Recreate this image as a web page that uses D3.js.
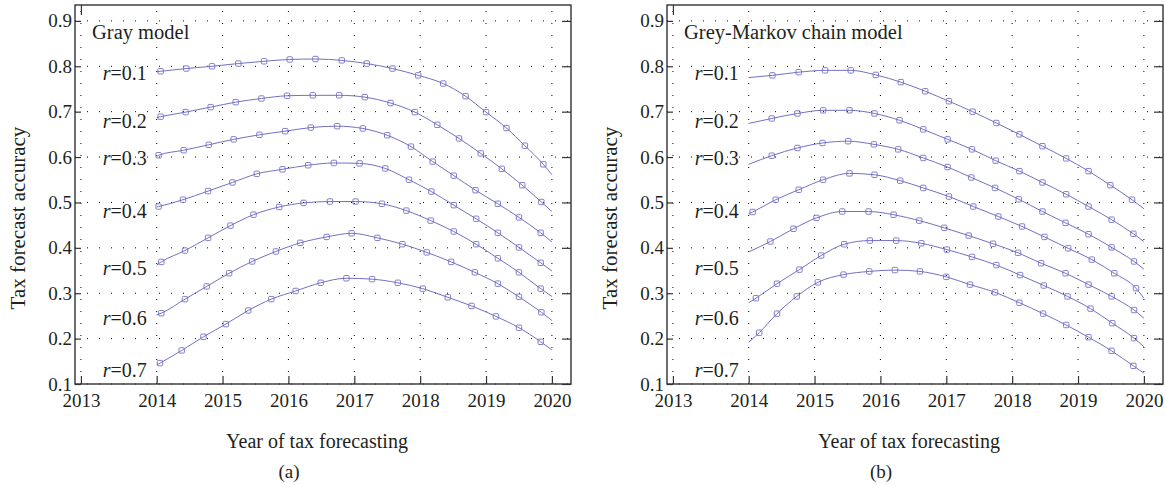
<!DOCTYPE html>
<html>
<head>
<meta charset="utf-8">
<script src="https://cdn.jsdelivr.net/npm/d3@7"></script>
<style>
  body { margin: 0; background: #fff; }
  svg text { font-family: "Liberation Serif", "Times New Roman", serif; fill: #231f20; }
</style>
</head>
<body>
<svg id="chart" width="1165" height="485"></svg>
<script>
// axis ticks
const xTickVals = [2012.85, 2014, 2015, 2016, 2017, 2018, 2019, 2020]
const xTickLabels = ["2013", "2014", "2015", "2016", "2017", "2018", "2019", "2020"]
const yTickVals = [0.1, 0.2, 0.3, 0.4, 0.5, 0.6, 0.7, 0.8, 0.9]

// curve labels (r values) and where they sit
const rValues = ["0.1", "0.2", "0.3", "0.4", "0.5", "0.6", "0.7"]
const rLabelY = [0.769, 0.665, 0.583, 0.466, 0.341, 0.230, 0.115]
const rLabelX = 2013.85

// (a) Gray model, [year, accuracy]
const grayR1 = [[2014.00,0.788],[2014.06,0.789],[2014.45,0.795],[2014.84,0.800],[2015.24,0.806],[2015.63,0.811],[2016.02,0.815],[2016.41,0.816],[2016.81,0.813],[2017.19,0.806],[2017.58,0.795],[2017.97,0.780],[2018.35,0.762],[2018.69,0.734],[2019.00,0.699],[2019.31,0.664],[2019.59,0.625],[2019.87,0.584],[2020.00,0.561]]
const grayR2 = [[2014.00,0.687],[2014.06,0.689],[2014.44,0.699],[2014.82,0.710],[2015.20,0.721],[2015.59,0.729],[2015.98,0.735],[2016.37,0.736],[2016.77,0.736],[2017.16,0.732],[2017.55,0.719],[2017.92,0.699],[2018.26,0.671],[2018.59,0.641],[2018.92,0.608],[2019.24,0.574],[2019.55,0.538],[2019.84,0.501],[2020.00,0.480]]
const grayR3 = [[2014.00,0.601],[2014.03,0.604],[2014.41,0.615],[2014.79,0.627],[2015.17,0.639],[2015.56,0.649],[2015.95,0.657],[2016.34,0.665],[2016.74,0.668],[2017.13,0.663],[2017.50,0.648],[2017.86,0.623],[2018.19,0.590],[2018.51,0.559],[2018.84,0.527],[2019.18,0.497],[2019.50,0.467],[2019.83,0.433],[2020.00,0.413]]
const grayR4 = [[2014.00,0.490],[2014.03,0.491],[2014.40,0.506],[2014.78,0.525],[2015.15,0.544],[2015.52,0.563],[2015.91,0.573],[2016.30,0.582],[2016.69,0.587],[2017.08,0.586],[2017.47,0.575],[2017.83,0.550],[2018.17,0.524],[2018.51,0.494],[2018.85,0.464],[2019.18,0.433],[2019.50,0.401],[2019.83,0.367],[2020.00,0.349]]
const grayR5 = [[2014.00,0.362],[2014.07,0.369],[2014.43,0.394],[2014.78,0.422],[2015.12,0.449],[2015.47,0.473],[2015.86,0.490],[2016.23,0.499],[2016.63,0.502],[2017.02,0.502],[2017.42,0.497],[2017.79,0.482],[2018.16,0.460],[2018.51,0.436],[2018.85,0.408],[2019.18,0.377],[2019.50,0.346],[2019.83,0.310],[2020.00,0.293]]
const grayR6 = [[2014.00,0.252],[2014.07,0.256],[2014.43,0.287],[2014.76,0.315],[2015.10,0.344],[2015.45,0.370],[2015.81,0.392],[2016.18,0.411],[2016.58,0.424],[2016.96,0.432],[2017.35,0.422],[2017.73,0.408],[2018.10,0.390],[2018.47,0.369],[2018.83,0.346],[2019.18,0.321],[2019.50,0.292],[2019.84,0.258],[2020.00,0.240]]
const grayR7 = [[2014.00,0.142],[2014.05,0.146],[2014.38,0.174],[2014.71,0.204],[2015.05,0.232],[2015.39,0.262],[2015.74,0.287],[2016.11,0.305],[2016.49,0.323],[2016.88,0.333],[2017.27,0.331],[2017.66,0.323],[2018.04,0.310],[2018.42,0.291],[2018.78,0.272],[2019.15,0.249],[2019.50,0.224],[2019.83,0.193],[2020.00,0.175]]

// (b) Grey-Markov chain model
const markovR1 = [[2014.00,0.775],[2014.36,0.780],[2014.76,0.787],[2015.16,0.791],[2015.55,0.791],[2015.93,0.781],[2016.31,0.765],[2016.68,0.745],[2017.04,0.723],[2017.40,0.700],[2017.76,0.675],[2018.11,0.650],[2018.46,0.624],[2018.82,0.597],[2019.16,0.569],[2019.49,0.538],[2019.82,0.506],[2020.00,0.486]]
const markovR2 = [[2014.00,0.674],[2014.35,0.685],[2014.74,0.696],[2015.13,0.703],[2015.53,0.703],[2015.91,0.696],[2016.29,0.681],[2016.65,0.661],[2017.02,0.639],[2017.39,0.617],[2017.75,0.592],[2018.11,0.569],[2018.46,0.544],[2018.82,0.518],[2019.16,0.491],[2019.51,0.462],[2019.84,0.431],[2020.00,0.414]]
const markovR3 = [[2014.00,0.584],[2014.35,0.603],[2014.74,0.620],[2015.12,0.631],[2015.51,0.635],[2015.90,0.628],[2016.27,0.617],[2016.65,0.598],[2017.02,0.578],[2017.38,0.555],[2017.74,0.532],[2018.10,0.507],[2018.46,0.480],[2018.81,0.455],[2019.16,0.430],[2019.51,0.401],[2019.85,0.370],[2020.00,0.353]]
const markovR4 = [[2014.00,0.475],[2014.06,0.479],[2014.41,0.506],[2014.76,0.528],[2015.13,0.550],[2015.53,0.564],[2015.91,0.561],[2016.30,0.548],[2016.65,0.532],[2017.04,0.513],[2017.41,0.491],[2017.79,0.469],[2018.15,0.447],[2018.49,0.424],[2018.85,0.399],[2019.21,0.374],[2019.55,0.344],[2019.88,0.311],[2020.00,0.289]]
const markovR5 = [[2014.00,0.391],[2014.33,0.414],[2014.68,0.442],[2015.03,0.466],[2015.42,0.480],[2015.82,0.480],[2016.20,0.473],[2016.59,0.460],[2016.97,0.444],[2017.34,0.427],[2017.71,0.409],[2018.09,0.389],[2018.44,0.366],[2018.81,0.344],[2019.16,0.319],[2019.51,0.293],[2019.85,0.263],[2020.00,0.245]]
const markovR6 = [[2014.00,0.279],[2014.11,0.289],[2014.43,0.321],[2014.77,0.352],[2015.10,0.383],[2015.45,0.408],[2015.84,0.416],[2016.24,0.416],[2016.62,0.410],[2017.01,0.396],[2017.39,0.380],[2017.76,0.362],[2018.12,0.340],[2018.48,0.317],[2018.84,0.293],[2019.19,0.266],[2019.52,0.234],[2019.85,0.201],[2020.00,0.182]]
const markovR7 = [[2014.00,0.192],[2014.16,0.213],[2014.43,0.255],[2014.73,0.293],[2015.05,0.324],[2015.44,0.341],[2015.83,0.348],[2016.22,0.351],[2016.60,0.348],[2017.00,0.336],[2017.36,0.319],[2017.74,0.302],[2018.11,0.279],[2018.47,0.255],[2018.82,0.230],[2019.16,0.203],[2019.51,0.173],[2019.84,0.140],[2020.00,0.124]]

const panels = [
  { title: "Gray model", tag: "(a)", series: [grayR1, grayR2, grayR3, grayR4, grayR5, grayR6, grayR7], ox: 0 },
  { title: "Grey-Markov chain model", tag: "(b)", series: [markovR1, markovR2, markovR3, markovR4, markovR5, markovR6, markovR7], ox: 592 }
]

const LINE = "#7270c4"
const FONT = "'Liberation Serif', 'Times New Roman', serif"
const svg = d3.select("#chart")

function drawPanel(p) {
  let g = svg.append("g")
  let x = d3.scaleLinear().domain([2012.76, 2020.29]).range([75 + p.ox, 571 + p.ox])
  let y = d3.scaleLinear().domain([0.1, 0.935]).range([384, 5])
  let [x0, x1] = x.range(), [y0, y1] = y.range()

  //dotted grid
  g.append("g").selectAll("line").data(xTickVals).enter().append("line")
    .attr("x1", d => x(d)).attr("x2", d => x(d)).attr("y1", y0).attr("y2", y1)
    .attr("stroke", "#000").attr("stroke-width", 1).attr("stroke-dasharray", "1,11")
  g.append("g").selectAll("line").data(yTickVals).enter().append("line")
    .attr("x1", x0).attr("x2", x1).attr("y1", d => y(d)).attr("y2", d => y(d))
    .attr("stroke", "#000").attr("stroke-width", 1).attr("stroke-dasharray", "1,11")

  //axes: ticks point inward, labels outside
  let xAxis = d3.axisBottom(x).tickValues(xTickVals).tickSize(-8).tickPadding(10)
    .tickFormat((d, i) => xTickLabels[i])
  let gx = g.append("g").attr("transform", `translate(0,${y0})`).call(xAxis)
  let yAxis = d3.axisLeft(y).tickValues(yTickVals).tickSize(-6).tickPadding(3)
    .tickFormat(d3.format(".1f"))
  let gy = g.append("g").attr("transform", `translate(${x0},0)`).call(yAxis)
  let yRight = d3.axisRight(y).tickValues(yTickVals).tickSize(-9).tickFormat("")
  let gr = g.append("g").attr("transform", `translate(${x1},0)`).call(yRight)
  //the top edge only carries the first tick
  let xTop = d3.axisTop(x).tickValues(xTickVals.slice(0, 1)).tickSize(-10).tickFormat("")
  let gt = g.append("g").attr("transform", `translate(0,${y1})`).call(xTop)
  ;[gx, gy, gr, gt].forEach(a => {
    a.select(".domain").remove()
    a.selectAll(".tick line").attr("stroke", "#333").attr("stroke-width", 1.2)
    a.selectAll(".tick text").attr("font-family", null).style("font-family", FONT)
      .style("font-size", "19px").attr("fill", "#231f20")
  })

  //frame
  g.append("rect").attr("x", x0).attr("y", y1).attr("width", x1 - x0).attr("height", y0 - y1)
    .attr("fill", "none").attr("stroke", "#333").attr("stroke-width", 1.4)

  //curves
  let line = d3.line().x(d => x(d[0])).y(d => y(d[1])).curve(d3.curveMonotoneX)
  p.series.forEach(s => {
    g.append("path").datum(s).attr("d", line)
      .attr("fill", "none").attr("stroke", LINE).attr("stroke-width", 1)
    //markers sit on the inner points
    g.append("g").selectAll("rect").data(s.slice(1, -1)).enter().append("rect")
      .attr("x", d => x(d[0]) - 2.7).attr("y", d => y(d[1]) - 2.7)
      .attr("width", 5.4).attr("height", 5.4).attr("rx", 1)
      .attr("fill", "none").attr("stroke", LINE).attr("stroke-width", 0.9)
  })

  //r labels
  let lbl = g.append("g").selectAll("text").data(rValues).enter().append("text")
    .attr("x", x(rLabelX)).attr("y", (d, i) => y(rLabelY[i]))
    .attr("text-anchor", "end").style("font-size", "20px")
  lbl.append("tspan").style("font-style", "italic").text("r")
  lbl.append("tspan").text(d => "=" + d)

  //title
  g.append("text").attr("x", x0 + 17).attr("y", 39).style("font-size", "20.5px").text(p.title)

  //axis titles
  g.append("text").attr("transform", `translate(${25 + p.ox},218) rotate(-90)`)
    .attr("text-anchor", "middle").style("font-size", "21px").text("Tax forecast accuracy")
  g.append("text").attr("x", 317 + p.ox).attr("y", 448)
    .attr("text-anchor", "middle").style("font-size", "20px").text("Year of tax forecasting")
  g.append("text").attr("x", 289 + p.ox).attr("y", 478)
    .attr("text-anchor", "middle").style("font-size", "19px").text(p.tag)
}

panels.forEach(drawPanel)
</script>
</body>
</html>
